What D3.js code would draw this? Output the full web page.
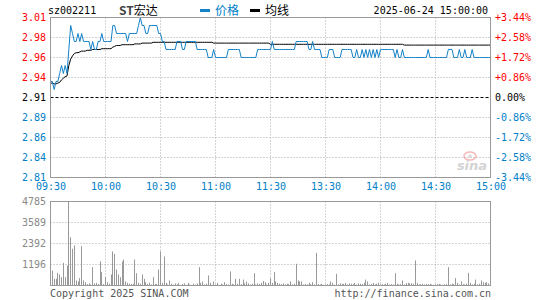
<!DOCTYPE html>
<html>
<head>
<meta charset="utf-8">
<script src="https://cdn.jsdelivr.net/npm/d3@7"></script>
<style>
  body { margin: 0; background: #fff; }
  svg { display: block; font-family: "DejaVu Sans Mono", monospace; font-size: 10px; }
</style>
</head>
<body>
<svg id="chart" width="545" height="300"></svg>
<script>
const stockCode = "sz002211";
const stockName = "ST宏达";
const stamp = "2025-06-24 15:00:00";

// one value per minute, 09:30-11:30 then 13:00-15:00
const price = [
  2.93,2.93,2.92,2.93,2.93,2.94,2.95,2.94,2.95,2.94,
  2.97,3.00,2.99,2.98,2.98,2.99,2.98,2.99,2.98,2.98,
  2.98,2.98,2.97,2.98,2.97,2.97,2.98,2.98,2.99,2.98,
  2.98,2.98,2.98,2.98,3.00,3.00,2.99,2.99,2.99,2.99,
  2.99,2.99,2.98,2.99,2.99,2.99,2.99,2.99,3.00,3.01,
  3.00,3.00,2.99,2.99,3.00,3.00,3.00,3.00,3.00,2.99,
  2.99,2.98,2.98,2.97,2.97,2.97,2.97,2.97,2.97,2.98,
  2.98,2.98,2.97,2.97,2.98,2.98,2.98,2.98,2.98,2.98,
  2.97,2.97,2.97,2.97,2.97,2.97,2.96,2.96,2.96,2.97,
  2.96,2.96,2.96,2.96,2.96,2.96,2.96,2.97,2.97,2.97,
  2.97,2.97,2.97,2.97,2.96,2.96,2.96,2.96,2.96,2.96,
  2.96,2.96,2.96,2.97,2.97,2.97,2.97,2.97,2.97,2.97,
  2.97,2.98,2.97,2.97,2.97,2.97,2.97,2.97,2.97,2.97,
  2.97,2.97,2.97,2.97,2.98,2.98,2.98,2.98,2.98,2.98,
  2.98,2.97,2.97,2.98,2.97,2.97,2.97,2.97,2.96,2.96,
  2.96,2.96,2.97,2.97,2.97,2.96,2.96,2.96,2.96,2.97,
  2.97,2.97,2.97,2.97,2.97,2.96,2.96,2.97,2.96,2.96,
  2.97,2.96,2.97,2.96,2.97,2.96,2.97,2.96,2.97,2.96,
  2.97,2.97,2.97,2.97,2.97,2.97,2.97,2.97,2.96,2.97,
  2.96,2.96,2.97,2.96,2.96,2.96,2.96,2.96,2.96,2.96,
  2.96,2.96,2.96,2.96,2.96,2.96,2.97,2.96,2.96,2.96,
  2.96,2.96,2.96,2.96,2.96,2.96,2.96,2.97,2.97,2.97,
  2.96,2.96,2.96,2.97,2.96,2.96,2.97,2.96,2.96,2.96,
  2.97,2.96,2.96,2.96,2.96,2.96,2.96,2.96,2.96,2.96,
  2.96
];

const avgPrice = [
  2.928,2.928,2.927,2.927,2.928,2.929,2.932,2.934,2.936,2.937,
  2.950,2.958,2.962,2.965,2.966,2.966,2.967,2.968,2.968,2.968,
  2.969,2.969,2.969,2.970,2.970,2.970,2.970,2.970,2.971,2.971,
  2.971,2.971,2.971,2.971,2.973,2.974,2.975,2.975,2.975,2.976,
  2.976,2.976,2.976,2.976,2.976,2.976,2.977,2.977,2.977,2.977,
  2.978,2.978,2.978,2.978,2.978,2.978,2.979,2.979,2.979,2.979,
  2.979,2.979,2.979,2.979,2.979,2.979,2.979,2.979,2.979,2.979,
  2.979,2.979,2.979,2.979,2.979,2.979,2.979,2.979,2.979,2.979,
  2.979,2.979,2.979,2.979,2.979,2.979,2.979,2.979,2.979,2.978,
  2.978,2.978,2.978,2.978,2.978,2.978,2.978,2.978,2.978,2.978,
  2.978,2.978,2.978,2.978,2.978,2.978,2.978,2.978,2.978,2.978,
  2.978,2.978,2.978,2.978,2.978,2.978,2.978,2.978,2.978,2.978,
  2.9765,2.9765,2.9765,2.9765,2.9765,2.9765,2.9765,2.9765,2.9765,2.9765,
  2.9765,2.9765,2.9765,2.9765,2.9765,2.9765,2.9765,2.9765,2.9765,2.9765,
  2.9765,2.9765,2.9765,2.9765,2.9765,2.9765,2.9765,2.9765,2.9765,2.9765,
  2.9765,2.9765,2.9765,2.9765,2.9765,2.9765,2.9765,2.9765,2.9765,2.9765,
  2.9765,2.9765,2.9765,2.9765,2.9765,2.9765,2.9765,2.9765,2.9765,2.9765,
  2.9765,2.9765,2.9765,2.9765,2.9765,2.9765,2.9765,2.9765,2.9765,2.9765,
  2.9765,2.9765,2.9765,2.9765,2.9765,2.9765,2.9765,2.9765,2.9765,2.9765,
  2.9765,2.9765,2.9765,2.9755,2.9755,2.9755,2.9755,2.9755,2.9755,2.9755,
  2.9755,2.9755,2.9755,2.9755,2.9755,2.9755,2.9755,2.9755,2.9755,2.9755,
  2.9755,2.9755,2.9755,2.9755,2.9755,2.9755,2.9755,2.9755,2.9755,2.9755,
  2.9755,2.9755,2.9755,2.9755,2.9755,2.9755,2.9755,2.9755,2.9755,2.9755,
  2.9755,2.9755,2.9755,2.9755,2.9755,2.9755,2.9755,2.9755,2.9755,2.9755,
  2.9755
];

const volume = [
  550,850,380,380,720,630,475,1290,475,1140,
  4785,2750,2090,2280,285,230,420,2240,285,190,
  80,120,60,1045,120,150,90,1370,760,80,
  475,190,100,630,1940,1800,910,630,475,1370,
  1480,230,150,100,95,95,1480,700,150,100,
  630,380,190,95,150,60,475,95,80,910,
  1940,150,1650,150,60,285,95,40,120,60,
  150,30,80,120,40,150,60,30,100,50,
  120,1045,150,230,60,100,570,150,40,230,
  60,150,30,100,60,190,80,50,800,100,
  60,380,100,380,80,340,120,230,120,60,
  100,700,60,120,80,150,250,190,60,150,
  420,150,760,230,150,100,80,120,60,100,
  80,230,60,100,1235,285,230,230,60,95,
  60,150,80,190,60,1860,95,60,95,40,
  60,80,60,230,150,40,665,60,120,100,
  80,150,60,120,100,80,150,60,120,100,
  80,150,340,230,60,80,150,60,100,150,
  60,80,60,100,150,60,80,60,700,100,
  60,80,285,60,130,150,120,130,100,1425,
  150,60,80,95,60,95,80,95,60,40,
  60,80,95,60,40,60,80,1045,60,100,
  80,420,150,60,230,80,60,100,720,150,
  60,100,340,60,100,285,190,150,190,120,
  200
];

const priceTicks = [3.01, 2.985, 2.96, 2.935, 2.91, 2.885, 2.86, 2.835, 2.81];
const priceLabels = ["3.01", "2.98", "2.96", "2.94", "2.91", "2.89", "2.86", "2.84", "2.81"];
const pctLabels = ["+3.44%", "+2.58%", "+1.72%", "+0.86%", "0.00%", "-0.86%", "-1.72%", "-2.58%", "-3.44%"];
const timeTicks = [0, 30, 60, 90, 120, 150, 180, 210, 240];
const timeLabels = ["09:30", "10:00", "10:30", "11:00", "11:30", "13:30", "14:00", "14:30", "15:00"];
const volTicks = [1196, 2392, 3589, 4785];

const RED = "#ff0000", BLUE = "#0080c8", LINE_BLUE = "#1482c8";

const svg = d3.select("#chart");
const L = 50.5, R = 490.5, T = 17.5, B = 177.5, VT = 201.5, VB = 285.5;

const x = d3.scaleLinear().domain([0, 240]).range([L, R]);
const y = d3.scaleLinear().domain([2.81, 3.01]).range([B, T]);
const vy = d3.scaleLinear().domain([0, 4785]).range([VB, VT]);
const snap = v => Math.round(v - 0.5) + 0.5;

function labelColor(i) {
  return i < 4 ? RED : i === 4 ? "#000" : BLUE;
}

// grid, price panel
svg.append("g").selectAll("line")
  .data(priceTicks.slice(1, -1))
  .join("line")
  .attr("x1", L).attr("x2", R)
  .attr("y1", d => snap(y(d))).attr("y2", d => snap(y(d)))
  .attr("stroke", d => d === 2.91 ? "#000" : "#aaa")
  .attr("stroke-dasharray", d => d === 2.91 ? "3,2" : "1,2");

svg.append("g").selectAll("line")
  .data(timeTicks.slice(1, -1))
  .join("line")
  .attr("x1", d => snap(x(d))).attr("x2", d => snap(x(d)))
  .attr("y1", T).attr("y2", B)
  .attr("stroke", "#aaa")
  .attr("stroke-dasharray", "1,2");

// grid, volume panel
svg.append("g").selectAll("line")
  .data(volTicks.slice(0, -1))
  .join("line")
  .attr("x1", L).attr("x2", R)
  .attr("y1", d => snap(vy(d))).attr("y2", d => snap(vy(d)))
  .attr("stroke", "#aaa")
  .attr("stroke-dasharray", "1,2");

svg.append("g").selectAll("line")
  .data(timeTicks.slice(1, -1))
  .join("line")
  .attr("x1", d => snap(x(d))).attr("x2", d => snap(x(d)))
  .attr("y1", VT).attr("y2", VB)
  .attr("stroke", "#aaa")
  .attr("stroke-dasharray", "1,2");

// sina watermark
const wm = svg.append("g").attr("opacity", 0.55);
wm.append("ellipse").attr("cx", 470).attr("cy", 156).attr("rx", 6).attr("ry", 4)
  .attr("fill", "none").attr("stroke", "#f08080").attr("stroke-width", 1.5);
wm.append("circle").attr("cx", 470).attr("cy", 156).attr("r", 1.8).attr("fill", "#c0c0c0");
wm.append("text").attr("x", 472).attr("y", 170).attr("text-anchor", "middle")
  .attr("font-family", "DejaVu Sans").attr("font-size", 13).attr("font-style", "italic")
  .attr("font-weight", "bold").attr("fill", "#b0b0b0").text("sina");

// volume bars
svg.append("g").selectAll("line")
  .data(volume)
  .join("line")
  .attr("x1", (d, i) => snap(x(i))).attr("x2", (d, i) => snap(x(i)))
  .attr("y1", vy(0)).attr("y2", d => vy(d))
  .attr("stroke", "#999");

// average and price lines
svg.append("path")
  .datum(avgPrice)
  .attr("fill", "none").attr("stroke", "#000").attr("stroke-width", 1)
  .attr("d", d3.line().x((d, i) => x(i)).y(d => y(d)));

svg.append("path")
  .datum(price)
  .attr("fill", "none").attr("stroke", LINE_BLUE).attr("stroke-width", 1)
  .attr("d", d3.line().x((d, i) => x(i)).y(d => y(d)));

// panel borders
svg.append("rect").attr("x", L).attr("y", T).attr("width", R - L).attr("height", B - T)
  .attr("fill", "none").attr("stroke", "#999");
svg.append("rect").attr("x", L).attr("y", VT).attr("width", R - L).attr("height", VB - VT)
  .attr("fill", "none").attr("stroke", "#999");

// axes
function styleAxis(g) {
  g.attr("font-family", null).attr("font-size", null);
  g.select(".domain").remove();
  g.selectAll(".tick line").remove();
}

const leftAxis = svg.append("g")
  .attr("transform", "translate(46,0)")
  .call(d3.axisLeft(y).tickValues(priceTicks).tickFormat((d, i) => priceLabels[i]).tickSize(0).tickPadding(0))
  .call(styleAxis);
leftAxis.selectAll(".tick text").attr("fill", (d, i) => labelColor(i));

const rightAxis = svg.append("g")
  .attr("transform", "translate(495,0)")
  .call(d3.axisRight(y).tickValues(priceTicks).tickFormat((d, i) => pctLabels[i]).tickSize(0).tickPadding(0))
  .call(styleAxis);
rightAxis.selectAll(".tick text").attr("fill", (d, i) => labelColor(i));

svg.append("g")
  .attr("transform", "translate(0,183)")
  .call(d3.axisBottom(x).tickValues(timeTicks).tickFormat((d, i) => timeLabels[i]).tickSize(0).tickPadding(0))
  .call(styleAxis)
  .selectAll(".tick text").attr("fill", BLUE);

svg.append("g")
  .attr("transform", "translate(46,0)")
  .call(d3.axisLeft(vy).tickValues(volTicks).tickFormat(d3.format("d")).tickSize(0).tickPadding(0))
  .call(styleAxis)
  .selectAll(".tick text").attr("fill", "#888");

// header
svg.append("text").attr("x", 48).attr("y", 14).attr("fill", "#000").text(stockCode);
svg.append("text").attr("x", 119).attr("y", 14.5).attr("fill", "#000")
  .attr("font-family", "'Noto Sans CJK SC', sans-serif").attr("font-size", 12)
  .call(t => {
    t.append("tspan").attr("fill", "#444").attr("font-weight", "bold").text(stockName.slice(0, 2));
    t.append("tspan").text(stockName.slice(2));
  });

const legend = [
  { label: "价格", color: LINE_BLUE, x: 200 },
  { label: "均线", color: "#000", x: 250 }
];
const lg = svg.append("g").selectAll("g").data(legend).join("g");
lg.append("rect").attr("x", d => d.x).attr("y", 9).attr("width", 10).attr("height", 3).attr("fill", d => d.color);
lg.append("text").attr("x", d => d.x + 15).attr("y", 15)
  .attr("font-family", "'Noto Sans CJK SC', sans-serif").attr("font-size", 12)
  .attr("fill", d => d.color === "#000" ? "#000" : BLUE).text(d => d.label);

svg.append("text").attr("x", 488).attr("y", 14).attr("text-anchor", "end").attr("fill", "#000").text(stamp);

// footer
svg.append("text").attr("x", 50).attr("y", 297).attr("fill", "#555").text("Copyright 2025 SINA.COM");
svg.append("text").attr("x", 491).attr("y", 297).attr("text-anchor", "end").attr("fill", "#555").text("http://finance.sina.com.cn");
</script>
</body>
</html>
